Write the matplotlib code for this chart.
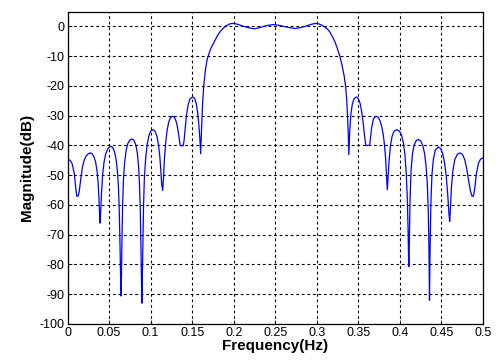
import matplotlib
matplotlib.use("Agg")
import matplotlib.pyplot as plt

# frequency (Hz) and magnitude (dB),
# one line per lobe so the two lists stay aligned
freq = [
    0.0, 0.003, 0.0053, 0.0081, 0.0100, 0.0113, 0.0128, 0.0141, 0.0161, 0.0180,
    0.0200, 0.0225, 0.0250, 0.0273, 0.0296, 0.0318, 0.0338, 0.0355, 0.0368, 0.0378, 0.0386,
    0.0393, 0.0400, 0.0410, 0.0422, 0.0440, 0.0460, 0.0485, 0.0506, 0.0526, 0.0546, 0.0566, 0.0584, 0.0600, 0.0613, 0.0623, 0.0632, 0.0638,
    0.0643, 0.0649, 0.0655, 0.0663, 0.0673, 0.0688, 0.0705, 0.0725, 0.0750, 0.0778, 0.0800, 0.0822, 0.0840, 0.0855, 0.0866, 0.0876, 0.0884, 0.0890,
    0.0895, 0.0900, 0.0907, 0.0915, 0.0925, 0.0940, 0.0958, 0.0978, 0.1000, 0.1029, 0.1055, 0.1077, 0.1095, 0.1110, 0.1122, 0.1133,
    0.1145, 0.1155, 0.1165, 0.1180, 0.1197, 0.1217, 0.1240, 0.1265, 0.1288, 0.1308, 0.1325, 0.1340, 0.1352,
    0.1362, 0.1392, 0.1402, 0.1415, 0.1432, 0.1452, 0.1475, 0.1506, 0.1530, 0.1550, 0.1566, 0.1580, 0.1592,
    0.1602, 0.1612, 0.1625, 0.1639, 0.1660, 0.1680, 0.1720, 0.1760, 0.1800, 0.1840, 0.1900, 0.1960,
    0.2000, 0.2050, 0.2100, 0.2170, 0.2240, 0.2300, 0.2360, 0.2420, 0.2480, 0.2540, 0.2600,
    0.2670, 0.2740, 0.2800, 0.2860, 0.2920, 0.2980, 0.3020, 0.3060, 0.3090,
    0.3125, 0.3155, 0.3185, 0.3220, 0.3250, 0.3280, 0.3306, 0.3328, 0.3346, 0.3358, 0.3368, 0.3377,
    0.3386, 0.3396, 0.3410, 0.3428, 0.3450, 0.3477, 0.3500, 0.3522, 0.3542, 0.3560, 0.3575,
    0.3590, 0.3635, 0.3645, 0.3660, 0.3678, 0.3695, 0.3716, 0.3740, 0.3762, 0.3782, 0.3800, 0.3815, 0.3828, 0.3840,
    0.3848, 0.3858, 0.3870, 0.3885, 0.3905, 0.3930, 0.3965, 0.3995, 0.4020, 0.4042, 0.4060, 0.4075, 0.4088, 0.4098, 0.4104,
    0.4108, 0.4114, 0.4122, 0.4134, 0.4150, 0.4170, 0.4195, 0.4222, 0.4250, 0.4275, 0.4297, 0.4315, 0.4330, 0.4342, 0.4350,
    0.4356, 0.4362, 0.4372, 0.4385, 0.4402, 0.4425, 0.4460, 0.4490, 0.4515, 0.4538, 0.4558, 0.4575, 0.4590,
    0.4599, 0.4608, 0.4620, 0.4637, 0.4660, 0.4690, 0.4720, 0.4752, 0.4780, 0.4805, 0.4828, 0.4850,
    0.4868, 0.4885, 0.4900, 0.4920, 0.4945, 0.4970, 0.5000,
]
mag_db = [
    -44.5, -45.0, -45.9, -49.3, -54.5, -57.1, -57.0, -55.5, -51.0, -47.3,
    -45.0, -43.5, -42.8, -42.5, -42.8, -43.8, -45.6, -48.5, -52.5, -57.5, -63.0,
    -66.1, -62.0, -55.5, -50.0, -45.5, -42.8, -41.1, -40.5, -40.3, -40.8, -42.2, -44.6, -48.5, -54.0, -62.0, -74.0, -84.0,
    -90.6, -84.0, -72.0, -60.0, -51.5, -45.5, -41.8, -39.4, -38.2, -37.8, -38.3, -39.8, -42.5, -47.0, -53.0, -62.0, -74.0, -85.0,
    -93.0, -85.0, -72.0, -60.0, -51.0, -44.5, -39.8, -36.9, -35.2, -34.7, -35.3, -37.0, -39.8, -43.5, -48.0, -53.0,
    -55.1, -51.0, -45.0, -39.5, -35.2, -32.2, -30.6, -30.2, -30.6, -32.0, -34.1, -36.8, -39.2,
    -40.1, -40.1, -38.5, -34.5, -29.8, -26.3, -24.3, -23.7, -24.2, -26.0, -29.0, -33.0, -37.5,
    -42.8, -35.0, -26.0, -20.1, -14.5, -11.1, -7.7, -5.5, -3.3, -1.6, 0.1, 0.9,
    1.0, 0.7, 0.2, -0.4, -0.8, -0.5, 0.0, 0.4, 0.6, 0.4, 0.0,
    -0.4, -0.7, -0.4, 0.0, 0.6, 1.0, 0.9, 0.4, -0.1,
    -0.8, -1.8, -3.3, -5.3, -7.7, -10.3, -13.4, -16.5, -20.1, -24.0, -29.0, -35.0,
    -43.1, -35.0, -29.5, -26.0, -24.2, -23.7, -24.3, -26.0, -29.0, -33.0, -37.0,
    -40.0, -40.0, -37.5, -34.0, -31.5, -30.5, -30.2, -30.6, -31.8, -33.8, -36.5, -40.0, -44.5, -50.5,
    -54.9, -50.5, -45.0, -40.3, -37.0, -35.2, -34.7, -35.2, -36.6, -39.2, -43.0, -49.0, -57.0, -68.0, -78.0,
    -80.7, -70.0, -58.0, -48.5, -43.0, -40.0, -38.4, -38.0, -38.5, -40.0, -42.8, -47.0, -53.0, -63.0, -76.0,
    -92.0, -76.0, -60.0, -50.0, -44.8, -41.6, -40.5, -41.0, -42.8, -46.0, -50.5, -56.5, -63.0,
    -65.5, -61.0, -54.0, -48.5, -44.8, -43.0, -42.5, -43.0, -44.8, -48.0, -52.0, -55.5,
    -57.1, -57.0, -54.5, -49.5, -46.0, -44.6, -44.2,
]

x_ticks = [0, 0.05, 0.1, 0.15, 0.2, 0.25, 0.3, 0.35, 0.4, 0.45, 0.5]
x_tick_labels = ["0", "0.05", "0.1", "0.15", "0.2", "0.25", "0.3", "0.35", "0.4", "0.45", "0.5"]
y_ticks = [0, -10, -20, -30, -40, -50, -60, -70, -80, -90, -100]

plt.rcParams["font.family"] = ["Liberation Sans", "DejaVu Sans"]
plt.rcParams["axes.unicode_minus"] = False

fig = plt.figure(figsize=(4.99, 3.61), dpi=100)
ax = fig.add_axes([0.1353, 0.1025, 0.8327, 0.8656])

ax.plot(freq, mag_db, color="#0000ff", linewidth=0.9)

ax.set_xlim(0, 0.5)
ax.set_ylim(-100, 5)
ax.set_xticks(x_ticks)
ax.set_xticklabels(x_tick_labels)
ax.set_yticks(y_ticks)

ax.grid(True, color="black", linestyle=(0, (2.5, 2.5)), linewidth=0.8)
ax.tick_params(direction="in", length=3, width=0.6, labelsize=9, pad=2, colors="black")

for spine in ax.spines.values():
    spine.set_linewidth(0.9)
    spine.set_color("black")

ax.set_xlabel("Frequency(Hz)", fontsize=11, fontweight="bold", labelpad=0)
ax.set_ylabel("Magnitude(dB)", fontsize=11, fontweight="bold", labelpad=4)

fig.savefig("out.png", dpi=100)
